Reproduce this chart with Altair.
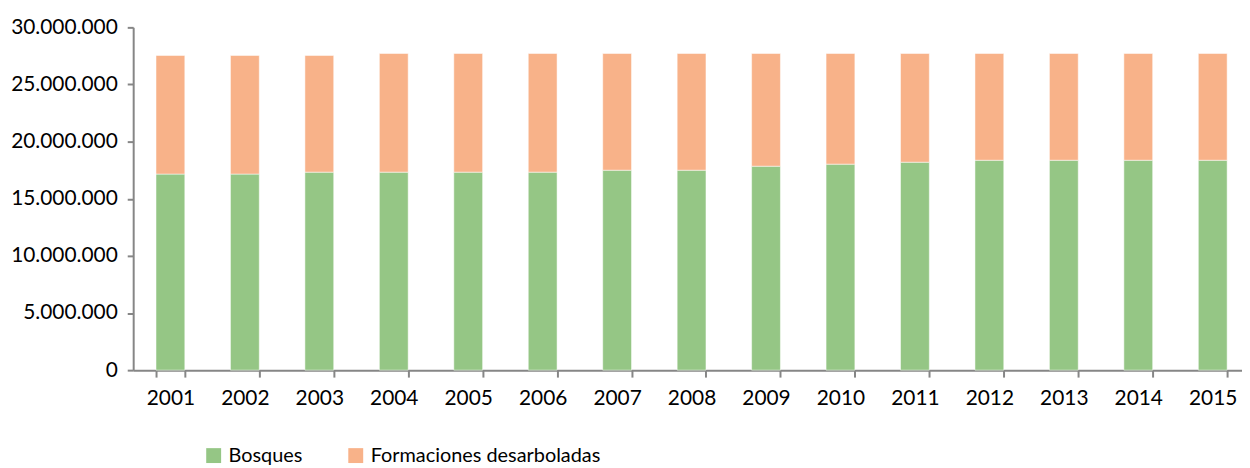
import altair as alt
import pandas as pd

years = [str(y) for y in range(2001, 2016)]
totales = [27.54, 27.54, 27.54, 27.71, 27.71, 27.71, 27.71, 27.71,
           27.71, 27.71, 27.71, 27.71, 27.71, 27.71, 27.71]
bosques = [17.16, 17.16, 17.33, 17.33, 17.33, 17.33, 17.50, 17.50,
           17.85, 18.03, 18.20, 18.37, 18.37, 18.37, 18.37]
series = ["Bosques", "Formaciones desarboladas"]
colors = ["#95C685", "#F8B289"]

rows = []
for y, t, b in zip(years, totales, bosques):
    rows.append({"year": y, "serie": series[0], "value": b * 1e6, "ord": 0})
    rows.append({"year": y, "serie": series[1], "value": (t - b) * 1e6, "ord": 1})
df = pd.DataFrame(rows)

FONT = "Lato"
AX = "#868686"

chart = alt.Chart(df).mark_bar(stroke="white", strokeWidth=1, strokeOpacity=0.5).encode(
    x=alt.X("year:N", sort=years, title=None,
            scale=alt.Scale(range=[0, 1124], paddingInner=0.613, paddingOuter=0.3065),
            axis=alt.Axis(labelAngle=0, tickBand="extent", tickSize=7, tickWidth=2,
                          tickColor=AX, domainColor=AX, domainWidth=2,
                          labelFont=FONT, labelFontSize=21, labelColor="#000000",
                          labelPadding=11, grid=False)),
    y=alt.Y("value:Q", stack="zero", title=None,
            scale=alt.Scale(domain=[0, 30000000], nice=False),
            axis=alt.Axis(values=[0, 5000000, 10000000, 15000000, 20000000, 25000000, 30000000],
                          labelExpr="replace(format(datum.value, ','), regexp(',', 'g'), '.')",
                          tickSize=6, tickWidth=2, tickColor=AX, domainColor=AX, domainWidth=2,
                          labelFont=FONT, labelFontSize=21, labelColor="#000000",
                          labelPadding=10, grid=False)),
    color=alt.Color("serie:N", sort=series,
                    scale=alt.Scale(domain=series, range=colors),
                    legend=alt.Legend(title=None, orient="none", legendX=71, legendY=421,
                                      direction="horizontal", symbolType="square",
                                      symbolSize=225, symbolStrokeWidth=0,
                                      labelFont=FONT, labelFontSize=20, labelColor="#000000",
                                      labelLimit=0, labelOffset=5, columnPadding=43, padding=0)),
    order=alt.Order("ord:Q"),
).properties(
    width=1116, height=345,
    padding={"left": 126, "top": 18, "right": 0, "bottom": 97},
    autosize=alt.AutoSizeParams(type="none"),
    background="white",
).configure_view(stroke=None)

chart.save("out.html", embed_options={"renderer": "svg", "actions": False})
